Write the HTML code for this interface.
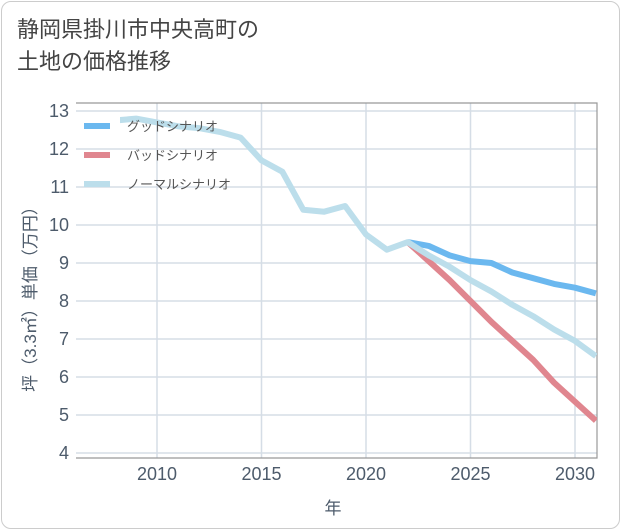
<!DOCTYPE html>
<html><head><meta charset="utf-8"><style>
body{margin:0;background:#fff;font-family:"Liberation Sans","Noto Sans CJK JP",sans-serif;}
.card{position:absolute;left:1px;top:1px;width:617px;height:526px;border:1px solid #ccc;border-radius:10px;background:#fff;}
.title{position:absolute;left:17px;top:14px;font-size:22px;line-height:32px;color:#444;}
</style></head><body>
<div class="card"></div>
<div class="title">静岡県掛川市中央高町の<br>土地の価格推移</div>
<svg id="chart" width="621" height="530" style="position:absolute;left:0;top:0"></svg>
<script>
const yTicks=[4,5,6,7,8,9,10,11,12,13];
const xTicks=[2010,2015,2020,2025,2030];
const normalYears=[2008,2009,2010,2011,2012,2013,2014,2015,2016,2017,2018,2019,2020,2021,2022,2023,2024,2025,2026,2027,2028,2029,2030,2031];
const normalVals=[12.75,12.8,12.7,12.6,12.55,12.45,12.3,11.7,11.4,10.4,10.35,10.5,9.75,9.35,9.55,9.2,8.9,8.55,8.25,7.9,7.6,7.25,6.95,6.55];
const futureYears=[2022,2023,2024,2025,2026,2027,2028,2029,2030,2031];
const goodVals=[9.55,9.45,9.2,9.05,9.0,8.75,8.6,8.45,8.35,8.2];
const badVals=[9.55,9.05,8.55,8.0,7.45,6.95,6.45,5.85,5.35,4.85];
const legendLabels=["グッドシナリオ","バッドシナリオ","ノーマルシナリオ"];
const L=76,R=597,T=103,B=458,CL=120;
const x=yr=>157+(yr-2010)*(575-157)/20;
const y=v=>111+(13-v)*(453-111)/9;
const svg=document.getElementById('chart');
const NS='http://www.w3.org/2000/svg';
function mk(t,a){const e=document.createElementNS(NS,t);for(const k in a)e.setAttribute(k,a[k]);svg.appendChild(e);return e;}
const defs=mk('defs',{});const cp=document.createElementNS(NS,'clipPath');cp.setAttribute('id','clip');
const cr=document.createElementNS(NS,'rect');cr.setAttribute('x',CL);cr.setAttribute('y',T);cr.setAttribute('width',R-CL);cr.setAttribute('height',B-T);cp.appendChild(cr);defs.appendChild(cp);
yTicks.forEach(v=>{
const g=mk('line',{x1:L,x2:R,y1:y(v),y2:y(v),stroke:'#d5dde6','stroke-width':1.5});


const t=mk('text',{x:69,y:y(v)+6,'text-anchor':'end','font-size':18,fill:'#4d5b6b'});t.textContent=v;


});
xTicks.forEach(v=>{
const g=mk('line',{x1:x(v),x2:x(v),y1:T,y2:B,stroke:'#d5dde6','stroke-width':1.5});


const t=mk('text',{x:x(v),y:480,'text-anchor':'middle','font-size':18,fill:'#4d5b6b'});t.textContent=v;


});
const ax=mk('path',{d:`M${L} ${T}H${R}V${B}H${L}`,fill:'none',stroke:'#999','stroke-width':1.2});


function line(xs,vs,c,name){
const p=mk('polyline',{points:xs.map((yr,i)=>x(yr)+','+y(vs[i])).join(' '),fill:'none',stroke:c,'stroke-width':6,'stroke-linejoin':'round','clip-path':'url(#clip)'});


}
line(futureYears,badVals,'#e0868f','bad-scenario-line');
line(futureYears,goodVals,'#6bb8ef','good-scenario-line');
line(normalYears,normalVals,'#bcdeeb','normal-scenario-line');
const lc=['#6bb8ef','#e0868f','#bcdeeb'];
legendLabels.forEach((s,i)=>{
const yy=126+i*29;
const r=mk('rect',{x:84,y:yy-3,width:26,height:6,fill:lc[i]});


const t=mk('text',{x:127,y:yy+5,'font-size':13,fill:'#555'});t.textContent=s;


});
const yt=mk('text',{x:0,y:0,'font-size':17,fill:'#4d5b6b','text-anchor':'middle',transform:'translate(36,295) rotate(-90)'});yt.textContent='坪（3.3㎡）単価（万円）';


const xt=mk('text',{x:333,y:514,'font-size':17,fill:'#4d5b6b','text-anchor':'middle'});xt.textContent='年';


</script>
</body></html>
